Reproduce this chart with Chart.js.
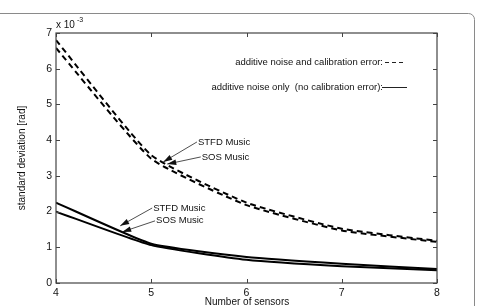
<!DOCTYPE html>
<html>
<head>
<meta charset="utf-8">
<script src="https://cdn.jsdelivr.net/npm/chart.js@4/dist/chart.umd.min.js"></script>
<style>
html,body{margin:0;padding:0;background:#fff;}
#wrap{width:477px;height:306px;position:relative;}
</style>
</head>
<body>
<div id="wrap"><canvas id="c" width="477" height="306"></canvas></div>
<script>
// ---- data ----
const sensors = [4, 5, 6, 7, 8];
const stfdCalib = [6.80, 3.58, 2.25, 1.52, 1.18];   // additive noise + calibration error
const sosCalib  = [6.58, 3.48, 2.18, 1.47, 1.15];
const stfdNoise = [2.25, 1.10, 0.73, 0.54, 0.39];   // additive noise only
const sosNoise  = [2.00, 1.06, 0.65, 0.47, 0.36];
const xTicks = [4, 5, 6, 7, 8];
const yTicks = [0, 1, 2, 3, 4, 5, 6, 7];
const legendLabels = ['additive noise and calibration error:', 'additive noise only  (no calibration error):'];
// annotation anchors in data units: [textX, textY, tipX, tipY, label]
const annotations = [
  [5.48, 3.95, 5.126, 3.39, 'STFD Music'],
  [5.52, 3.53, 5.168, 3.33, 'SOS Music'],
  [5.01, 2.10, 4.674, 1.60, 'STFD Music'],
  [5.04, 1.74, 4.695, 1.43, 'SOS Music']
];

const FONT = '"Liberation Sans", Arial, Helvetica, sans-serif';
const pts = arr => sensors.map((x, i) => ({x: x, y: arr[i]}));

const decor = {
  id: 'decor',
  beforeDraw(chart) {
    const ctx = chart.ctx;
    ctx.save();
    ctx.fillStyle = '#fff';
    ctx.fillRect(0, 0, chart.width, chart.height);
    ctx.strokeStyle = '#8a8a8a';
    ctx.lineWidth = 1;
    ctx.beginPath();
    ctx.roundRect(-6.5, 13.5, 481, 320, 6);
    ctx.stroke();
    ctx.restore();
  },
  afterDraw(chart) {
    const ctx = chart.ctx;
    const a = chart.chartArea;
    const xs = chart.scales.x, ys = chart.scales.y;
    ctx.save();
    ctx.strokeStyle = '#444';
    ctx.lineWidth = 1.2;
    ctx.strokeRect(a.left, a.top, a.right - a.left, a.bottom - a.top);
    ctx.lineWidth = 1;
    const tl = 4;
    ctx.beginPath();
    xTicks.forEach(v => {
      const px = Math.round(xs.getPixelForValue(v)) + 0.5;
      ctx.moveTo(px, a.bottom); ctx.lineTo(px, a.bottom - tl);
      ctx.moveTo(px, a.top); ctx.lineTo(px, a.top + tl);
    });
    yTicks.forEach(v => {
      const py = Math.round(ys.getPixelForValue(v)) + 0.5;
      ctx.moveTo(a.left, py); ctx.lineTo(a.left + tl, py);
      ctx.moveTo(a.right, py); ctx.lineTo(a.right - tl, py);
    });
    ctx.stroke();

    ctx.fillStyle = '#111';
    ctx.font = '10px ' + FONT;
    ctx.textAlign = 'left';
    ctx.textBaseline = 'alphabetic';
    ctx.fillText('x 10', a.left, a.top - 5);
    ctx.font = '7px ' + FONT;
    ctx.fillText('-3', a.left + 21, a.top - 11);

    ctx.font = '10px ' + FONT;
    ctx.textAlign = 'center';
    ctx.textBaseline = 'middle';
    ctx.fillText('Number of sensors', (a.left + a.right) / 2 + 0.5, 302);
    ctx.save();
    ctx.translate(22, (a.top + a.bottom) / 2);
    ctx.rotate(-Math.PI / 2);
    ctx.fillText('standard deviation [rad]', 0, 0);
    ctx.restore();

    ctx.font = '9.5px ' + FONT;
    ctx.textAlign = 'right';
    ctx.textBaseline = 'middle';
    const lx = 383, l1y = 62, l2y = 87;
    ctx.fillText(legendLabels[0], lx, l1y);
    ctx.fillText(legendLabels[1], lx, l2y);
    ctx.strokeStyle = '#222';
    ctx.lineWidth = 1;
    ctx.setLineDash([4, 3]);
    ctx.beginPath(); ctx.moveTo(385, l1y + 0.5); ctx.lineTo(406, l1y + 0.5); ctx.stroke();
    ctx.setLineDash([]);
    ctx.beginPath(); ctx.moveTo(382, l2y + 0.5); ctx.lineTo(407, l2y + 0.5); ctx.stroke();

    ctx.font = '9.5px ' + FONT;
    ctx.textAlign = 'left';
    annotations.forEach(([tx, ty, ax, ay, label]) => {
      const px = xs.getPixelForValue(tx), py = ys.getPixelForValue(ty);
      const qx = xs.getPixelForValue(ax), qy = ys.getPixelForValue(ay);
      ctx.fillStyle = '#111';
      ctx.fillText(label, px + 1, py);
      ctx.strokeStyle = '#222';
      ctx.lineWidth = 0.8;
      ctx.beginPath(); ctx.moveTo(px, py); ctx.lineTo(qx, qy); ctx.stroke();
      const ang = Math.atan2(qy - py, qx - px);
      const L = 9, W = 2.8;
      const bx = qx - L * Math.cos(ang), by = qy - L * Math.sin(ang);
      ctx.beginPath();
      ctx.moveTo(qx, qy);
      ctx.lineTo(bx + W * Math.sin(ang), by - W * Math.cos(ang));
      ctx.lineTo(bx - W * Math.sin(ang), by + W * Math.cos(ang));
      ctx.closePath();
      ctx.fillStyle = '#111';
      ctx.fill();
    });
    ctx.restore();
  }
};

const lineDs = (label, data, dashed) => ({
  label: label,
  data: pts(data),
  borderColor: '#000',
  borderWidth: 2,
  borderDash: dashed ? [6, 4] : [],
  pointRadius: 0,
  fill: false,
  tension: 0.15
});

new Chart(document.getElementById('c'), {
  type: 'line',
  data: {
    datasets: [
      lineDs('STFD Music (noise + calibration error)', stfdCalib, true),
      lineDs('SOS Music (noise + calibration error)', sosCalib, true),
      lineDs('STFD Music (noise only)', stfdNoise, false),
      lineDs('SOS Music (noise only)', sosNoise, false)
    ]
  },
  options: {
    responsive: false,
    animation: false,
    devicePixelRatio: 1,
    layout: { padding: { top: 33, right: 40, left: 0, bottom: 0 } },
    plugins: { legend: { display: false }, tooltip: { enabled: false } },
    scales: {
      x: {
        type: 'linear', min: 4, max: 8,
        afterBuildTicks: s => { s.ticks = xTicks.map(v => ({value: v})); },
        afterFit: s => { s.height = 23; },
        grid: { display: false, drawTicks: false },
        border: { display: false },
        ticks: { color: '#111', font: { family: FONT, size: 10.5 }, padding: 4, maxRotation: 0 }
      },
      y: {
        type: 'linear', min: 0, max: 7,
        afterBuildTicks: s => { s.ticks = yTicks.map(v => ({value: v})); },
        afterFit: s => { s.width = 56; },
        grid: { display: false, drawTicks: false },
        border: { display: false },
        ticks: { color: '#111', font: { family: FONT, size: 10.5 }, padding: 4 }
      }
    }
  },
  plugins: [decor]
});
</script>
</body>
</html>
